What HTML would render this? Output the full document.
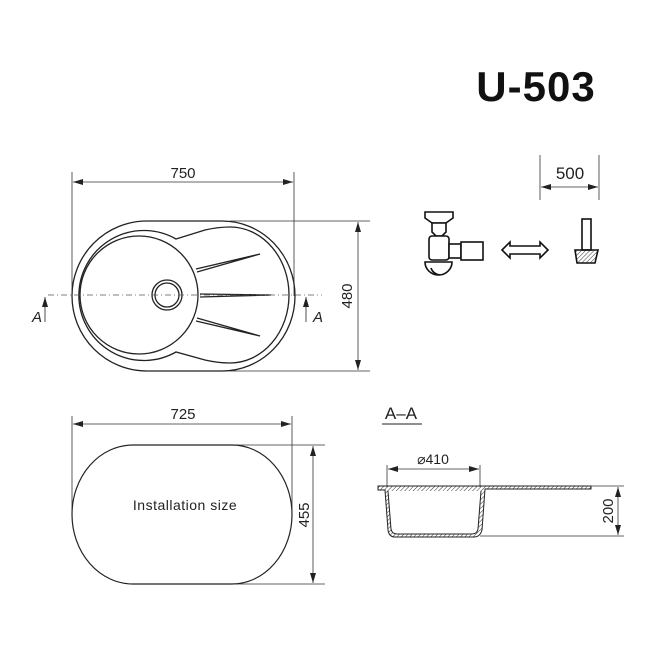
<!DOCTYPE html>
<html><head><meta charset="utf-8"><style>body{margin:0;background:#fff}svg{display:block}</style></head>
<body>
<svg width="650" height="650" viewBox="0 0 650 650" xmlns="http://www.w3.org/2000/svg" font-family="'Liberation Sans',sans-serif">
<defs>
<marker id="ar" markerWidth="10" markerHeight="6" refX="10" refY="3" orient="auto-start-reverse" markerUnits="userSpaceOnUse"><path d="M0,0 L10,3 L0,6 Z" fill="#222"/></marker>
<pattern id="h" width="3" height="3" patternUnits="userSpaceOnUse" patternTransform="rotate(45)"><line x1="0" y1="0" x2="0" y2="3" stroke="#333" stroke-width="1"/></pattern>
</defs>
<text x="536" y="101" font-size="42" font-weight="bold" text-anchor="middle" fill="#111" letter-spacing="1">U-503</text>

<!-- top view -->
<g stroke="#333" fill="none" stroke-width="0.8">
<line x1="72" y1="172" x2="72" y2="296"/><line x1="294" y1="172" x2="294" y2="296"/>
<line x1="73" y1="182" x2="293" y2="182" marker-start="url(#ar)" marker-end="url(#ar)"/>
<line x1="230" y1="221" x2="370" y2="221"/><line x1="230" y1="371" x2="370" y2="371"/>
<line x1="358" y1="222" x2="358" y2="370" marker-start="url(#ar)" marker-end="url(#ar)"/>
</g>
<text x="183" y="178" font-size="15" text-anchor="middle" fill="#222">750</text>
<text x="0" y="0" font-size="15" text-anchor="middle" fill="#222" transform="translate(352,296) rotate(-90)">480</text>
<g stroke="#222" fill="none" stroke-width="1.3">
<path d="M147,221 H222 A73,75 0 0 1 222,371 H147 A75,75 0 0 1 147,221 Z"/>
<path d="M176,239 L205,230 Q218,227 230,227 A59,68 0 0 1 230,363 Q218,363 205,360 L176,352 A65,65 0 1 1 176,239 Z"/>
<circle cx="139" cy="295" r="59"/>
<circle cx="167" cy="295" r="15"/><circle cx="167" cy="295" r="12"/>
<path d="M196,269 L260,254 L197,272"/>
<path d="M200,294 L271,295 L200,297"/>
<path d="M196,321 L260,336 L197,318"/>
</g>
<line x1="48" y1="295" x2="322" y2="295" stroke="#555" stroke-width="0.8" stroke-dasharray="6,3,1,3"/>
<line x1="45" y1="322" x2="45" y2="297" stroke="#222" stroke-width="0.8" marker-end="url(#ar)"/>
<line x1="306" y1="322" x2="306" y2="297" stroke="#222" stroke-width="0.8" marker-end="url(#ar)"/>
<text x="37" y="322" font-size="15" font-style="italic" text-anchor="middle" fill="#222">A</text>
<text x="318" y="322" font-size="15" font-style="italic" text-anchor="middle" fill="#222">A</text>

<!-- installation -->
<g stroke="#333" fill="none" stroke-width="0.8">
<line x1="72" y1="416" x2="72" y2="510"/><line x1="292" y1="416" x2="292" y2="510"/>
<line x1="73" y1="424" x2="291" y2="424" marker-start="url(#ar)" marker-end="url(#ar)"/>
<line x1="230" y1="445" x2="325" y2="445"/><line x1="230" y1="584" x2="325" y2="584"/>
<line x1="313" y1="446" x2="313" y2="583" marker-start="url(#ar)" marker-end="url(#ar)"/>
</g>
<path d="M133,445 H232 A60,69.5 0 0 1 232,584 H133 A61,69.5 0 0 1 133,445 Z" stroke="#222" stroke-width="1.2" fill="none"/>
<text x="183" y="419" font-size="15" text-anchor="middle" fill="#222">725</text>
<text x="0" y="0" font-size="15" text-anchor="middle" fill="#222" transform="translate(309,515) rotate(-90)">455</text>
<text x="185" y="510" font-size="14" text-anchor="middle" fill="#222" letter-spacing="0.5">Installation size</text>

<!-- section A-A -->
<text x="401" y="419" font-size="17" text-anchor="middle" fill="#222">A–A</text>
<line x1="382" y1="424" x2="422" y2="424" stroke="#222" stroke-width="1"/>
<text x="433" y="464" font-size="14" text-anchor="middle" fill="#222">⌀410</text>
<g stroke="#333" fill="none" stroke-width="0.8">
<line x1="387" y1="465" x2="387" y2="487"/><line x1="480" y1="465" x2="480" y2="487"/>
<line x1="388" y1="469" x2="479" y2="469" marker-start="url(#ar)" marker-end="url(#ar)"/>
<line x1="480" y1="486" x2="624" y2="486"/><line x1="480" y1="536" x2="624" y2="536"/>
<line x1="618" y1="487" x2="618" y2="535" marker-start="url(#ar)" marker-end="url(#ar)"/>
</g>
<text x="0" y="0" font-size="15" text-anchor="middle" fill="#222" transform="translate(613,511) rotate(-90)">200</text>
<path d="M378,486 H591 V489 H485 L482,530 Q480,537 474,537 H395 Q389,537 388,530 L385,490 H378 Z" stroke="#222" stroke-width="1" fill="url(#h)"/>
<path d="M388,491 L391,529 Q392,534 397,534 H472 Q477,534 478,529 L481,491" stroke="#222" stroke-width="1" fill="#fff"/>

<!-- siphon / knife icons -->
<g stroke="#333" fill="none" stroke-width="0.8">
<line x1="540" y1="155" x2="540" y2="200"/><line x1="599" y1="155" x2="599" y2="200"/>
<line x1="541" y1="187" x2="598" y2="187" marker-start="url(#ar)" marker-end="url(#ar)"/>
</g>
<text x="570" y="179" font-size="17" text-anchor="middle" fill="#222">500</text>
<g stroke="#111" stroke-width="1.6" fill="#fff">
<path d="M425,212 H453 V218 L446,223 H432 L425,218 Z"/>
<path d="M432,223 H446 V232 L442,236 H436 L432,232 Z"/>
<rect x="429" y="236" width="20" height="24" rx="3"/>
<rect x="449" y="244" width="12" height="14"/>
<rect x="461" y="242" width="22" height="18"/>
<path d="M425,262 H452 A13.5,13 0 0 1 425,262 Z"/>
<path d="M431,268 Q433,274 440,275" fill="none"/>
<path d="M502,250 L510,242 V246 H540 V242 L548,250 L540,258 V254 H510 V258 Z"/>
<rect x="582" y="219" width="9" height="31"/>
<path d="M575,250 H598 L595,263 H577 Z" fill="url(#h)"/>
</g>
</svg>
</body></html>
